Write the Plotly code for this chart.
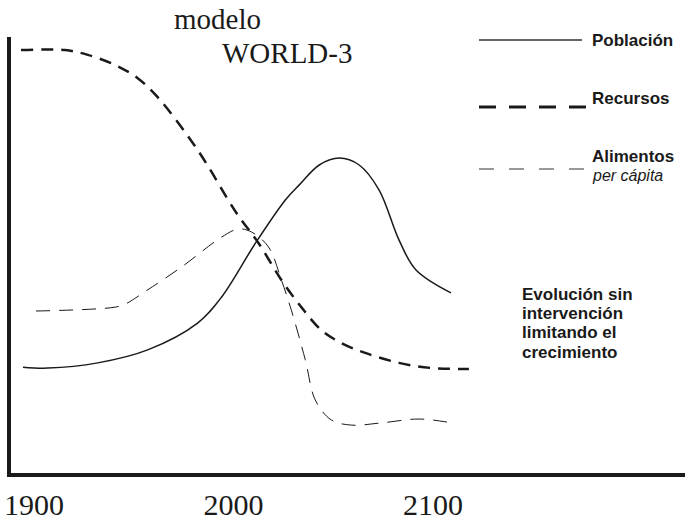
import plotly.graph_objects as go

# Data (y in % of the plot height)
pob_years = [1894.5, 1907, 1932, 1957, 1982, 1994, 2011, 2026, 2033, 2043, 2053, 2063, 2073, 2083, 2091.5, 2109]
pob_vals = [23.8, 23.6, 24.8, 27.8, 34.0, 40.0, 52.5, 62.5, 66.0, 70.6, 72.2, 70.6, 64.8, 53.2, 46.3, 41.0]

rec_years = [1893.5, 1915.6, 1927, 1940.7, 1952, 1962, 1982, 2001.5, 2012.6, 2024, 2034, 2044, 2054, 2066, 2083, 2099.5, 2118]
rec_vals = [97.2, 97.2, 96.1, 93.75, 90.7, 86.3, 74.1, 59.5, 52.5, 44.0, 37.7, 32.4, 29.4, 27.1, 24.8, 23.6, 23.4]

ali_years = [1901, 1940.7, 1945.7, 1957, 1974, 1994, 2002.5, 2009, 2017.6, 2024, 2029, 2036, 2041, 2049, 2059, 2074, 2093, 2109.5]
ali_vals = [36.8, 37.7, 38.4, 41.7, 47.0, 53.9, 55.8, 55.1, 51.6, 44.0, 37.0, 25.5, 16.2, 11.6, 10.4, 10.9, 11.8, 10.9]

tick_years = [1900, 2000, 2100]
tick_labels = ["1900", "2000", "2100"]

INK = "#1a1a1a"
sans = "Liberation Sans, Arial, sans-serif"
serif = "Liberation Serif, Times New Roman, serif"

fig = go.Figure()
fig.add_trace(go.Scatter(x=pob_years, y=pob_vals, mode="lines", name="Población",
                         line=dict(color=INK, width=1.5, shape="spline")))
fig.add_trace(go.Scatter(x=rec_years, y=rec_vals, mode="lines", name="Recursos",
                         line=dict(color=INK, width=2.5, shape="spline", dash="12px,8px")))
fig.add_trace(go.Scatter(x=ali_years, y=ali_vals, mode="lines", name="Alimentos per cápita",
                         line=dict(color=INK, width=1, shape="spline", dash="14px,9px")))

L, R, T, B = 11, 685, 37, 473
def px(x):
    return (x - L) / (R - L)
def py(y):
    return (B - y) / (B - T)

shapes = [
    dict(type="line", xref="paper", yref="paper", x0=px(479), x1=px(582), y0=py(40), y1=py(40),
         line=dict(color="#333", width=1.5)),
    dict(type="line", xref="paper", yref="paper", x0=px(479), x1=px(586), y0=py(107), y1=py(107),
         line=dict(color=INK, width=3, dash="17px,13px")),
    dict(type="line", xref="paper", yref="paper", x0=px(479), x1=px(584), y0=py(169), y1=py(169),
         line=dict(color="#333", width=1, dash="15px,15px")),
]

annotations = []
def ann(text, x, y, size, family):
    annotations.append(dict(text=text, x=px(x), y=py(y), xref="paper", yref="paper", showarrow=False,
                            xanchor="left", yanchor="middle",
                            font=dict(family=family, size=size, color=INK)))

ann("modelo", 172, 19, 29, serif)
ann("WORLD-3", 220, 53, 29, serif)
ann("<b>Población</b>", 590, 41, 17, sans)
ann("<b>Recursos</b>", 590, 98, 17, sans)
ann("<b>Alimentos</b>", 590, 156, 17, sans)
ann("<i>per cápita</i>", 590, 175, 16, sans)
ann("<b>Evolución sin</b>", 520, 294, 17, sans)
ann("<b>intervención</b>", 520, 313, 17, sans)
ann("<b>limitando el</b>", 520, 333, 17, sans)
ann("<b>crecimiento</b>", 520, 352, 17, sans)

fig.update_layout(
    width=685, height=521,
    margin=dict(l=L, r=0, t=T, b=521 - B, pad=0),
    paper_bgcolor="white", plot_bgcolor="white",
    showlegend=False,
    shapes=shapes, annotations=annotations,
    xaxis=dict(range=[1888.5, 2226.3], showgrid=False, zeroline=False, showline=True,
               linecolor=INK, linewidth=4, tickvals=tick_years, ticktext=tick_labels,
               ticks="", ticklabelstandoff=2, automargin=False,
               tickfont=dict(family=serif, size=30, color=INK)),
    yaxis=dict(range=[-0.69, 100.23], showgrid=False, zeroline=False, showline=True,
               linecolor=INK, linewidth=4, showticklabels=False, ticks="", automargin=False),
)

fig.write_html("out.html", config={"displayModeBar": False},
               post_script="document.body.style.margin='0';document.body.style.overflow='hidden';")
